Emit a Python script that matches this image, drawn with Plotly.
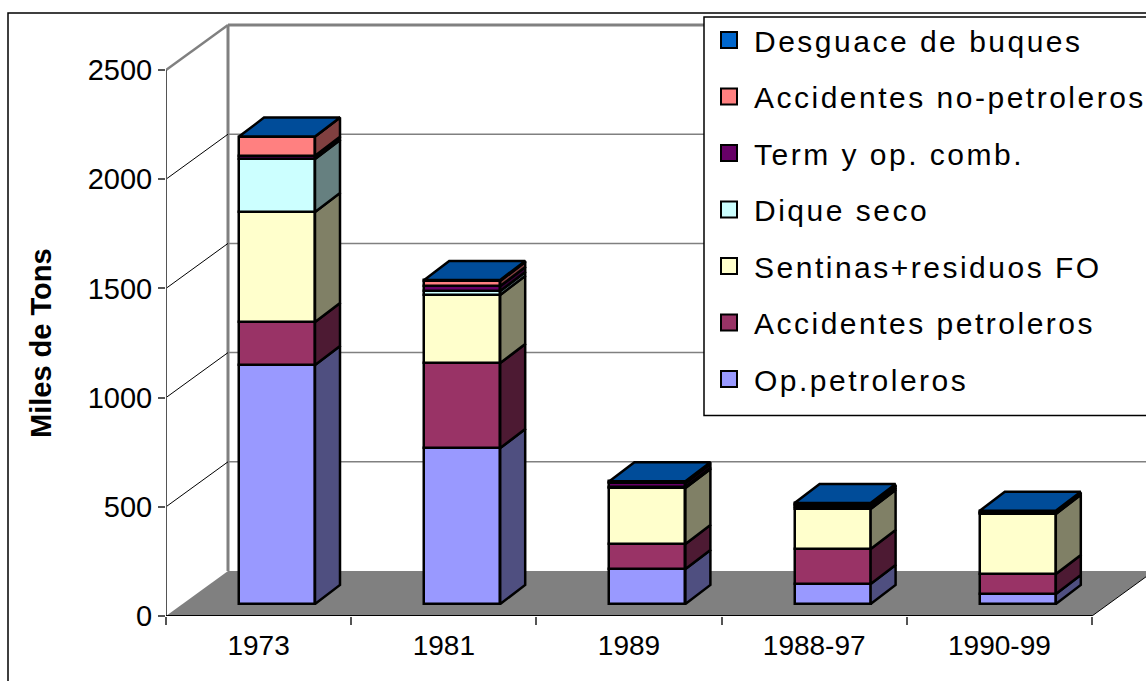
import plotly.graph_objects as go

categories = ["1973", "1981", "1989", "1988-97", "1990-99"]
series_names = ["Op.petroleros", "Accidentes petroleros", "Sentinas+residuos FO", "Dique seco",
                "Term y op. comb.", "Accidentes no-petroleros", "Desguace de buques"]
op_petroleros = [1094, 714, 160, 92, 46]
acc_petroleros = [197, 389, 115, 160, 91]
sentinas = [504, 312, 256, 183, 275]
dique_seco = [242, 18, 6, 8, 4]
term_comb = [15, 23, 16, 10, 6]
acc_no_petroleros = [88, 23, 4, 5, 3]
desguace = [0, 5, 5, 4, 2]
values = [op_petroleros, acc_petroleros, sentinas, dique_seco, term_comb, acc_no_petroleros, desguace]
front_colors = ["#9999FF", "#993366", "#FFFFCC", "#CCFFFF", "#660066", "#FF8080", "#0066CC"]
side_colors = ["#4F4F80", "#4D1A33", "#808066", "#668080", "#330033", "#804040", "#003366"]
top_color = "#004C99"
y_ticks = [0, 500, 1000, 1500, 2000, 2500]

W, H = 1146, 681
ML, MT, MB = 166, 20, 65
PX_X = 185.2
PX_Y = 0.2184
x_max = (W - ML) / PX_X
y_max = (H - MB - MT) / PX_Y
WALL_DX, WALL_DY = 62 / PX_X, 45 / PX_Y
BAR_OX, BAR_OY = 18.4 / PX_X, 12 / PX_Y
BAR_DX, BAR_DY = 25 / PX_X, 19 / PX_Y
BAR_W = 76 / PX_X
GRAY = "#808080"
EDGE = 2.5

fig = go.Figure()
shapes = []

def seg(x0, y0, x1, y1, color, width):
    shapes.append(dict(type="line", xref="x", yref="y", x0=x0, y0=y0, x1=x1, y1=y1,
                       layer="below", line=dict(color=color, width=width)))

def px_x(p):
    return (p - ML) / (W - ML)

def px_y(p):
    return (H - MB - p) / (H - MB - MT)

# floor
shapes.append(dict(type="path", xref="x", yref="y", layer="below",
                   path=f"M0,0 L{WALL_DX},{WALL_DY} L{5 + WALL_DX},{WALL_DY} L5,0 Z",
                   fillcolor=GRAY, line=dict(width=0)))
# back wall
seg(WALL_DX, WALL_DY, WALL_DX, 2500 + WALL_DY, GRAY, 3)
for t in y_ticks[1:]:
    top = t == 2500
    seg(WALL_DX, t + WALL_DY, x_max + 1, t + WALL_DY, GRAY, 3 if top else 1.5)
    seg(0, t, WALL_DX, t + WALL_DY, GRAY if top else "#000000", 2.5 if top else 1)

# front faces, stacked
cum = [BAR_OY] * len(categories)
centers = [i + 0.5 + BAR_OX for i in range(len(categories))]
for name, vals, fc, sc in zip(series_names, values, front_colors, side_colors):
    fig.add_trace(go.Bar(x=centers, y=vals, base=list(cum), width=BAR_W, name=name, showlegend=False,
                         marker=dict(color=fc, line=dict(color="#000000", width=EDGE))))
    sx, sy = [], []
    for i, v in enumerate(vals):
        xr = centers[i] + BAR_W / 2
        b, t = cum[i], cum[i] + v
        sx += [xr, xr + BAR_DX, xr + BAR_DX, xr, xr, None]
        sy += [b, b + BAR_DY, t + BAR_DY, t, b, None]
        cum[i] = t
    fig.add_trace(go.Scatter(x=sx, y=sy, mode="lines", fill="toself", fillcolor=sc, showlegend=False,
                             line=dict(color="#000000", width=EDGE), hoverinfo="skip"))
# top faces
tx, ty = [], []
for i, c in enumerate(cum):
    xl, xr = centers[i] - BAR_W / 2, centers[i] + BAR_W / 2
    tx += [xl, xr, xr + BAR_DX, xl + BAR_DX, xl, None]
    ty += [c, c, c + BAR_DY, c + BAR_DY, c, None]
fig.add_trace(go.Scatter(x=tx, y=ty, mode="lines", fill="toself", fillcolor=top_color, showlegend=False,
                         line=dict(color="#000000", width=EDGE), hoverinfo="skip"))

# axis lines
fig.add_trace(go.Scatter(x=[0, 0], y=[0, 2500], mode="lines", cliponaxis=False, showlegend=False,
                         line=dict(color="#555555", width=2), hoverinfo="skip"))
fig.add_trace(go.Scatter(x=[0, 5], y=[0, 0], mode="lines", cliponaxis=False, showlegend=False,
                         line=dict(color="#000000", width=2), hoverinfo="skip"))
fig.add_trace(go.Scatter(x=[5, 5 + WALL_DX], y=[0, WALL_DY], mode="lines", cliponaxis=False, showlegend=False,
                         line=dict(color="#000000", width=1), hoverinfo="skip"))

# legend entries, top to bottom
for name, fc in reversed(list(zip(series_names, front_colors))):
    fig.add_trace(go.Scatter(x=[None], y=[None], mode="markers", name=name, legendgroup=name,
                             marker=dict(symbol="square", size=16, color=fc,
                                         line=dict(color="#000000", width=2))))

# outer frame
shapes.append(dict(type="rect", xref="paper", yref="paper", layer="below",
                   x0=px_x(8), x1=px_x(W + 20), y0=-0.2, y1=px_y(13),
                   line=dict(color="#000000", width=1.5), fillcolor="rgba(0,0,0,0)"))
# legend box
shapes.append(dict(type="rect", xref="paper", yref="paper", layer="above",
                   x0=px_x(704), x1=px_x(W + 20), y0=px_y(415.5), y1=px_y(17),
                   line=dict(color="#000000", width=1.5), fillcolor="#FFFFFF"))

font = "Liberation Sans, Arial, sans-serif"
fig.update_layout(
    width=W, height=H, barmode="overlay", bargap=0,
    margin=dict(l=ML, r=0, t=MT, b=MB, autoexpand=False),
    paper_bgcolor="#FFFFFF", plot_bgcolor="rgba(0,0,0,0)",
    font=dict(family=font, color="#000000"),
    shapes=shapes,
    annotations=[dict(text="<b>Miles de Tons</b>", textangle=-90, showarrow=False, font=dict(size=29),
                      xref="paper", yref="paper", xanchor="center", yanchor="middle",
                      x=px_x(41), y=px_y(343))],
    xaxis=dict(range=[0, x_max], tickmode="array", tickvals=[i + 0.5 for i in range(5)], ticktext=categories,
               ticks="", showgrid=False, zeroline=False, showline=False, tickfont=dict(size=28),
               ticklabelstandoff=10,
               minor=dict(tickmode="array", tickvals=[0, 1, 2, 3, 4, 5], ticks="outside", ticklen=8,
                          tickwidth=1.5, tickcolor="#555555", showgrid=False)),
    yaxis=dict(range=[0, y_max], tickmode="array", tickvals=y_ticks, ticks="outside", ticklen=7,
               tickwidth=1.5, tickcolor="#555555", showgrid=False, zeroline=False, showline=False,
               tickfont=dict(size=29)),
    legend=dict(x=px_x(704), y=px_y(14), xanchor="left", yanchor="top",
                bgcolor="rgba(0,0,0,0)", borderwidth=0, font=dict(size=30),
                traceorder="grouped", tracegroupgap=14.5, itemwidth=40, itemclick=False, itemdoubleclick=False,
                maxheight=600),
)

post = ("document.body.style.margin='0';document.body.style.overflow='hidden';"
        "document.querySelectorAll('.legendtext').forEach(function(t){t.style.letterSpacing='2.5px';});"
        "document.querySelectorAll('.legend .scrollbox').forEach(function(s){"
        "s.removeAttribute('clip-path');s.style.clipPath='none';});")
fig.write_html("out.html", post_script=post, config={"displayModeBar": False})
